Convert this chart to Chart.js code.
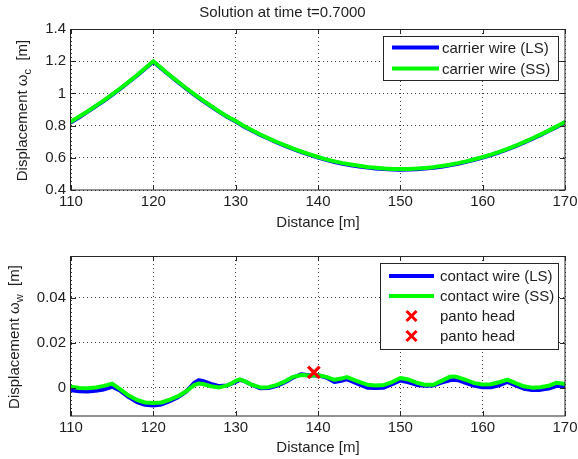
<!DOCTYPE html>
<html>
<head>
<meta charset="utf-8">
<script src="https://cdn.jsdelivr.net/npm/chart.js@4"></script>
<style>
html,body{margin:0;padding:0;background:#fff;}
#wrap{position:relative;width:578px;height:459px;overflow:hidden;}
#c1{position:absolute;left:0;top:0;}
#c2{position:absolute;left:0;top:230px;}
</style>
</head>
<body>
<div id="wrap">
<canvas id="c1" width="578" height="230" style="width:578px;height:230px"></canvas>
<canvas id="c2" width="578" height="229" style="width:578px;height:229px"></canvas>
</div>
<script>
// ---------- data ----------
const chartTitle = 'Solution at time t=0.7000';
const xAxisTitle = 'Distance [m]';
const distanceTicks = [110, 120, 130, 140, 150, 160, 170];
const distanceTickLabels = ['110', '120', '130', '140', '150', '160', '170'];
const carrierTicks = [0.4, 0.6, 0.8, 1.0, 1.2, 1.4];
const carrierTickLabels = ['0.4', '0.6', '0.8', '1', '1.2', '1.4'];
const contactTicks = [0, 0.02, 0.04];
const contactTickLabels = ['0', '0.02', '0.04'];

const carrierX = [110,111,112,113,114,115,116,117,118,119,120,121,122,123,124,125,126,127,128,129,130,
  131,132,133,134,135,136,137,138,139,140,141,142,143,144,145,146,147,148,149,150,
  151,152,153,154,155,156,157,158,159,160,161,162,163,164,165,166,167,168,169,170];
const carrierSS = [0.825,0.856,0.888,0.922,0.957,0.994,1.032,1.072,1.113,1.156,1.200,1.156,1.113,1.072,1.032,0.994,0.957,0.922,0.888,0.856,0.828,
  0.798,0.771,0.745,0.721,0.698,0.677,0.657,0.639,0.621,0.605,0.590,0.578,0.567,0.558,0.550,0.543,0.538,0.534,0.531,0.530,
  0.531,0.533,0.537,0.542,0.549,0.557,0.567,0.578,0.591,0.605,0.620,0.637,0.655,0.675,0.697,0.720,0.744,0.769,0.795,0.822];
const carrierLS = [0.821,0.852,0.885,0.919,0.954,0.991,1.029,1.069,1.110,1.153,1.196,1.153,1.111,1.070,1.030,0.991,0.954,0.919,0.885,0.853,0.825,
  0.795,0.768,0.742,0.718,0.695,0.674,0.654,0.636,0.618,0.602,0.587,0.574,0.563,0.554,0.546,0.539,0.534,0.530,0.527,0.526,
  0.527,0.529,0.533,0.538,0.545,0.553,0.563,0.575,0.588,0.602,0.617,0.634,0.652,0.672,0.694,0.717,0.741,0.766,0.792,0.819];

const contactX = [110,111,112,113,114,115,116,117,118,119,120,121,122,123,124,125,125.5,126,127,128,129,130,130.5,
  131,132,133,134,135,136,137,138,139,140,141,142,143,143.5,144,145,146,147,148,149,150,
  151,152,153,154,155,156,156.5,157,158,159,160,161,162,163,164,165,166,167,168,169,170];
const contactSS = [0.0004,-0.0002,-0.0003,0.0001,0.0008,0.0018,-0.0008,-0.0035,-0.0054,-0.0066,-0.0068,-0.0066,-0.0053,-0.0038,-0.0016,0.0012,0.0018,0.0016,0.0006,0.0001,0.0010,0.0030,0.0037,
  0.0030,0.0012,0.0001,0.0002,0.0012,0.0028,0.0048,0.0056,0.0054,0.0055,0.0048,0.0035,0.0042,0.0047,0.0040,0.0026,0.0013,0.0010,0.0012,0.0025,0.0043,
  0.0036,0.0022,0.0013,0.0013,0.0030,0.0048,0.0050,0.0046,0.0034,0.0020,0.0014,0.0015,0.0024,0.0036,0.0020,0.0006,0.0000,0.0002,0.0008,0.0022,0.0016];
const contactLS = [-0.0012,-0.0016,-0.0017,-0.0014,-0.0008,0.0004,-0.0014,-0.0042,-0.0064,-0.0076,-0.0079,-0.0075,-0.0060,-0.0042,-0.0018,0.0022,0.0033,0.0030,0.0017,0.0007,0.0010,0.0025,0.0034,
  0.0030,0.0012,-0.0003,-0.0002,0.0008,0.0024,0.0045,0.0060,0.0054,0.0055,0.0045,0.0025,0.0032,0.0037,0.0030,0.0014,0.0000,-0.0002,0.0000,0.0015,0.0032,
  0.0024,0.0012,0.0008,0.0010,0.0022,0.0033,0.0035,0.0033,0.0020,0.0008,0.0002,0.0002,0.0010,0.0025,0.0010,-0.0005,-0.0011,-0.0010,-0.0004,0.0008,0.0005];

const pantoX = [139.5];
const pantoY = [0.0068];

// ---------- styling ----------
const FAMILY = '"Liberation Sans", Arial, Helvetica, sans-serif';
const TEXT = '#1e1e1e';
Chart.defaults.font.family = FAMILY;
Chart.defaults.font.size = 15;
Chart.defaults.color = TEXT;

const pts = (xs, ys) => xs.map((x, i) => ({x: x, y: ys[i]}));

function drawCross(ctx, cx, cy, r, color, w) {
  ctx.save();
  ctx.strokeStyle = color; ctx.lineWidth = w; ctx.lineCap = 'butt';
  ctx.beginPath();
  ctx.moveTo(cx - r, cy - r); ctx.lineTo(cx + r, cy + r);
  ctx.moveTo(cx + r, cy - r); ctx.lineTo(cx - r, cy + r);
  ctx.stroke();
  ctx.restore();
}

const matlabFrame = {
  id: 'matlabFrame',
  afterDatasetsDraw(chart, args, opts) {
    const ctx = chart.ctx, ca = chart.chartArea;
    const xs = chart.scales.x, ys = chart.scales.y;
    ctx.save();
    // axes box
    ctx.strokeStyle = '#262626'; ctx.lineWidth = 1;
    ctx.strokeRect(Math.round(ca.left) - 0.5, Math.round(ca.top) + 0.5,
                   Math.round(ca.right - ca.left) + 0.5, Math.round(ca.bottom - ca.top) - 0.5);
    // inward ticks
    ctx.beginPath();
    xs.ticks.forEach(t => {
      const px = Math.round(xs.getPixelForValue(t.value)) + 0.5;
      ctx.moveTo(px, ca.bottom); ctx.lineTo(px, ca.bottom - 5);
      ctx.moveTo(px, ca.top); ctx.lineTo(px, ca.top + 5);
    });
    ys.ticks.forEach(t => {
      const py = Math.round(ys.getPixelForValue(t.value)) + 0.5;
      ctx.moveTo(ca.left, py); ctx.lineTo(ca.left + 5, py);
      ctx.moveTo(ca.right, py); ctx.lineTo(ca.right - 5, py);
    });
    ctx.stroke();

    // legend box
    const L = opts.legend;
    ctx.font = '15px ' + FAMILY;
    const items = chart.data.datasets;
    let tw = 0;
    items.forEach(d => { tw = Math.max(tw, ctx.measureText(d.label).width); });
    const w = Math.round(L.textX + tw + L.padRight);
    const h = L.rowH * items.length + L.padV * 2;
    const bx = Math.round(ca.right - L.right - w), by = Math.round(ca.top + L.top);
    ctx.fillStyle = '#fff';
    ctx.fillRect(bx, by, w, h);
    ctx.strokeStyle = '#262626'; ctx.lineWidth = 1;
    ctx.strokeRect(bx + 0.5, by + 0.5, w, h);
    items.forEach((d, i) => {
      const cy = by + L.padV + L.rowH * (i + 0.5);
      if (d.showLine === false) {
        drawCross(ctx, bx + (L.lineX0 + L.lineX1) / 2, cy, 5, d.pointBorderColor, 3);
      } else {
        ctx.strokeStyle = d.borderColor; ctx.lineWidth = d.borderWidth; ctx.lineCap = 'butt';
        ctx.beginPath(); ctx.moveTo(bx + L.lineX0, cy); ctx.lineTo(bx + L.lineX1, cy); ctx.stroke();
      }
      ctx.fillStyle = TEXT; ctx.textBaseline = 'middle'; ctx.textAlign = 'left';
      ctx.fillText(d.label, bx + L.textX, cy + 1);
    });

    // y-axis title with subscript
    const T = opts.yTitle;
    const mainFont = '15px ' + FAMILY, subFont = '11px ' + FAMILY;
    ctx.font = mainFont; const w1 = ctx.measureText(T.main).width;
    ctx.font = subFont; const w2 = ctx.measureText(T.sub).width;
    ctx.font = mainFont; const w3 = ctx.measureText(T.tail).width;
    const total = w1 + w2 + w3;
    ctx.translate(T.x, (ca.top + ca.bottom) / 2 + T.dy);
    ctx.rotate(-Math.PI / 2);
    ctx.fillStyle = TEXT; ctx.textAlign = 'left'; ctx.textBaseline = 'middle';
    ctx.font = mainFont; ctx.fillText(T.main, -total / 2, 0);
    ctx.font = subFont; ctx.fillText(T.sub, -total / 2 + w1, 5);
    ctx.font = mainFont; ctx.fillText(T.tail, -total / 2 + w1 + w2, 0);
    ctx.restore();
  }
};

function makeScales(cfg) {
  return {
    x: {
      type: 'linear', min: 110, max: 170,
      afterBuildTicks: s => { s.ticks = distanceTicks.map(v => ({value: v})); },
      afterFit: s => { s.height = cfg.xHeight; s.paddingLeft = 0; s.paddingRight = 0; },
      ticks: {
        autoSkip: false, maxRotation: 0, padding: 4,
        font: {size: 15, lineHeight: 1},
        callback: (v, i) => distanceTickLabels[i]
      },
      grid: {color: '#3a3a3a', lineWidth: 1, drawTicks: false},
      border: {display: false, dash: [1, 3]},
      title: {display: true, text: xAxisTitle, font: {size: 15, lineHeight: 1}, padding: {top: 0, bottom: cfg.xTitlePad}}
    },
    y: {
      type: 'linear', min: cfg.yMin, max: cfg.yMax,
      afterBuildTicks: s => { s.ticks = cfg.yTicks.map(v => ({value: v})); },
      afterFit: s => { s.width = 71; s.paddingTop = 0; s.paddingBottom = 0; },
      ticks: {
        padding: 5, font: {size: 15, lineHeight: 1},
        callback: (v, i) => cfg.yLabels[i]
      },
      grid: {color: '#3a3a3a', lineWidth: 1, drawTicks: false},
      border: {display: false, dash: [1, 3]}
    }
  };
}

const lineDefaults = {pointRadius: 0, borderWidth: 4, tension: 0, borderJoinStyle: 'round', borderCapStyle: 'round', fill: false};

new Chart(document.getElementById('c1'), {
  type: 'line',
  data: {
    datasets: [
      Object.assign({label: 'carrier wire (LS)', data: pts(carrierX, carrierLS), borderColor: '#0000ff', order: 2}, lineDefaults),
      Object.assign({label: 'carrier wire (SS)', data: pts(carrierX, carrierSS), borderColor: '#00ff00', order: 1}, lineDefaults)
    ]
  },
  options: {
    responsive: false, animation: false, devicePixelRatio: 1,
    layout: {padding: {left: 0, right: 13, top: 0, bottom: 0}},
    plugins: {
      legend: {display: false}, tooltip: {enabled: false},
      title: {display: true, text: chartTitle, color: TEXT, font: {size: 15, weight: 'normal', lineHeight: 1}, padding: {top: 5.5, bottom: 8.5}},
      matlabFrame: {
        legend: {right: 7, top: 7, rowH: 21, padV: 1, lineX0: 9, lineX1: 56, textX: 59, padRight: 8},
        yTitle: {x: 22.5, dy: 1, main: 'Displacement ω', sub: 'c', tail: '  [m]'}
      }
    },
    scales: makeScales({xHeight: 40, xTitlePad: 0, yMin: 0.4, yMax: 1.4, yTicks: carrierTicks, yLabels: carrierTickLabels})
  },
  plugins: [matlabFrame]
});

new Chart(document.getElementById('c2'), {
  type: 'line',
  data: {
    datasets: [
      Object.assign({label: 'contact wire (LS)', data: pts(contactX, contactLS), borderColor: '#0000ff', order: 3}, lineDefaults),
      Object.assign({label: 'contact wire (SS)', data: pts(contactX, contactSS), borderColor: '#00ff00', order: 2}, lineDefaults),
      {label: 'panto head', data: pts(pantoX, pantoY), showLine: false, pointStyle: 'crossRot', pointRadius: 8,
       pointBorderWidth: 3, pointBorderColor: '#ff0000', borderColor: '#ff0000', backgroundColor: '#ff0000', order: 1},
      {label: 'panto head', data: pts(pantoX, pantoY), showLine: false, pointStyle: 'crossRot', pointRadius: 8,
       pointBorderWidth: 3, pointBorderColor: '#ff0000', borderColor: '#ff0000', backgroundColor: '#ff0000', order: 0}
    ]
  },
  options: {
    responsive: false, animation: false, devicePixelRatio: 1,
    layout: {padding: {left: 0, right: 13, top: 26, bottom: 0}},
    plugins: {
      legend: {display: false}, tooltip: {enabled: false},
      matlabFrame: {
        legend: {right: 7, top: 7, rowH: 20, padV: 3, lineX0: 9, lineX1: 54, textX: 60, padRight: 4},
        yTitle: {x: 15, dy: 1, main: 'Displacement ω', sub: 'w', tail: '  [m]'}
      }
    },
    scales: makeScales({xHeight: 43, xTitlePad: 3.5, yMin: -0.0126, yMax: 0.0585, yTicks: contactTicks, yLabels: contactTickLabels})
  },
  plugins: [matlabFrame]
});
</script>
</body>
</html>
